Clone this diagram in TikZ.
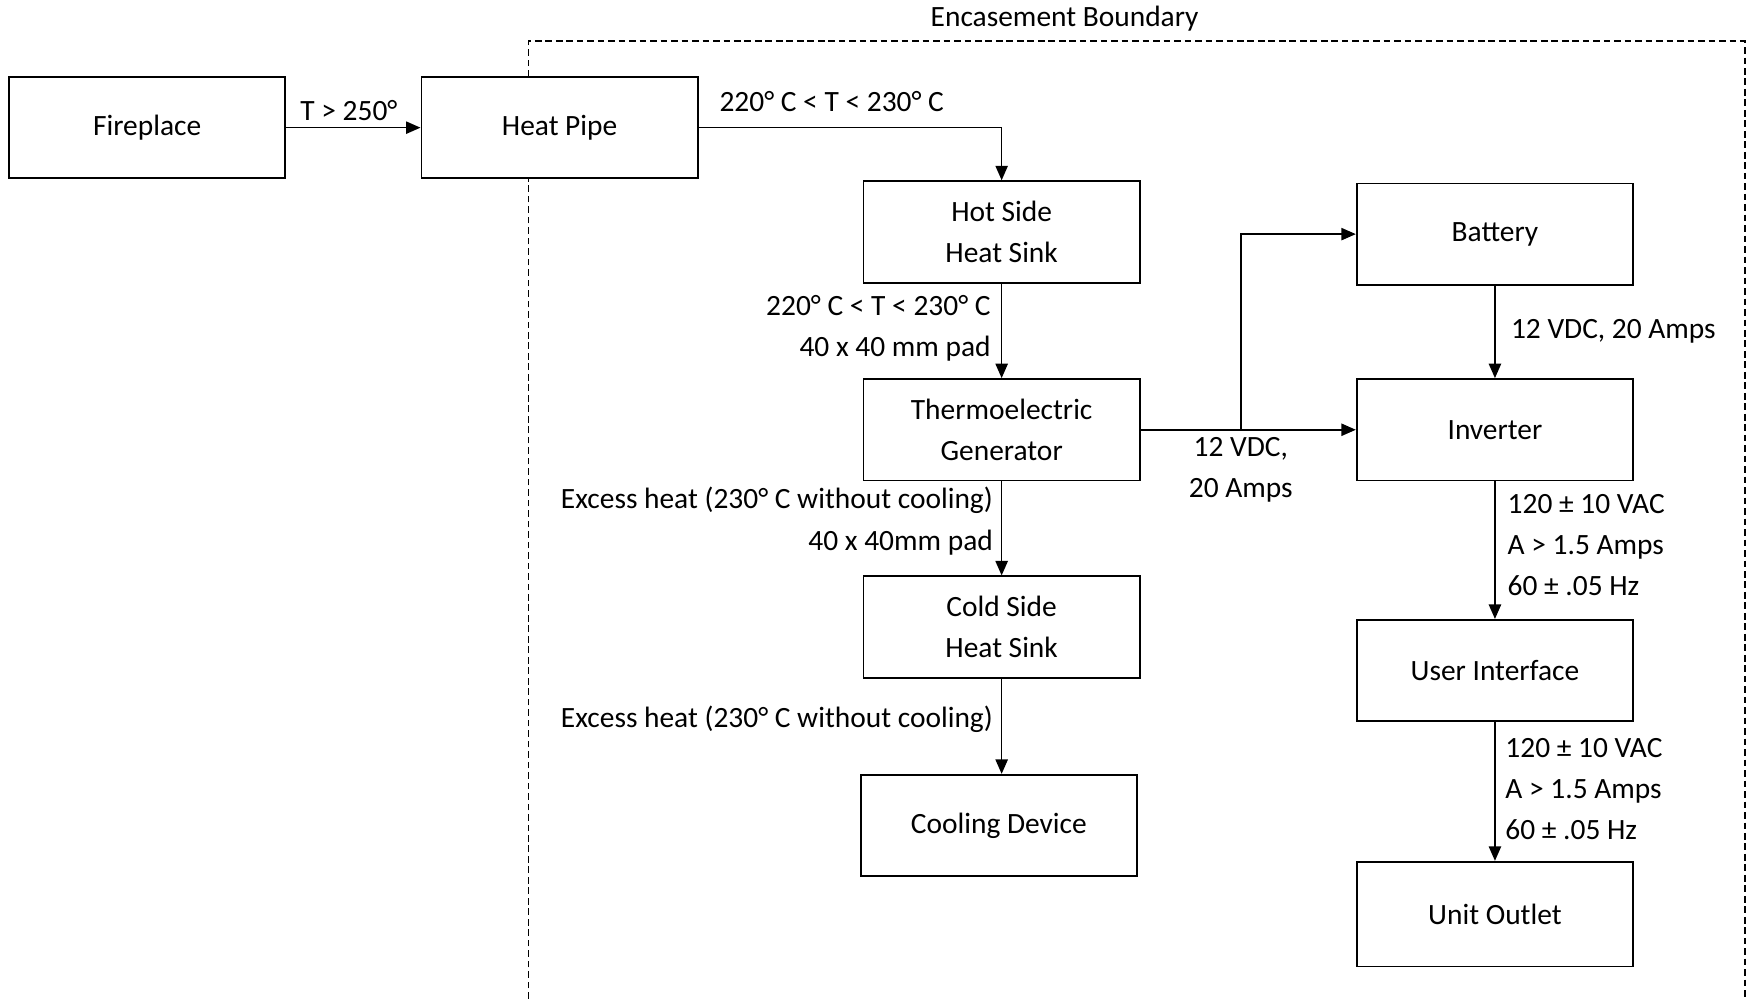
\documentclass[tikz,border=0pt]{standalone}
\usepackage{fontspec}
\setmainfont{Carlito}
\usetikzlibrary{arrows.meta}
\tikzset{
  box/.style={draw, line width=0.8pt, fill=white, minimum width=124pt, minimum height=45.5pt, align=center, inner sep=0pt},
  lbl/.style={inner sep=0pt},
  conn/.style={line width=0.75pt, -{Triangle[length=6.5pt,width=5.5pt]}},
  every node/.style={font=\fontsize{13.2}{18.5}\selectfont}
}
\begin{document}
\begin{tikzpicture}[x=0.5pt,y=-0.5pt]
\useasboundingbox (0,0) rectangle (1568,896);
% boundary
\coordinate (bl) at (474,896);
\coordinate (tl) at (474,37);
\coordinate (tr) at (1565,37);
\coordinate (br0) at (1565,896);
\draw[line width=0.75pt, dash pattern=on 3pt off 1.7pt] (bl) -- (tl) -- (tr) -- (br0);
\node[lbl] (enc) at (955,17) {Encasement Boundary};
% boxes
\node[box] (fire) at (132,114.5) {Fireplace};
\node[box] (pipe) at (502,114.5) {Heat Pipe};
\node[box] (hot) at (898.5,208) {Hot Side\\Heat Sink};
\node[box] (teg) at (898.5,385.5) {Thermoelectric\\Generator};
\node[box] (cold) at (898.5,562.5) {Cold Side\\Heat Sink};
\node[box] (cool) at (896,740.5) {Cooling Device};
\node[box] (batt) at (1341,210) {Battery};
\node[box] (inv) at (1341,385.5) {Inverter};
\node[box] (ui) at (1341,601.5) {User Interface};
\node[box, minimum height=47pt] (out) at (1341,820) {Unit Outlet};
% connectors
\draw[conn] (fire) -- (pipe);
\draw[conn] (pipe.east) -| (hot.north);
\draw[conn] (hot) -- (teg);
\draw[conn] (teg) -- (cold);
\draw[conn] (cold.south) -- (cool.north -| cold.south);
\draw[conn] (teg.east) -- (inv.west);
\coordinate (split) at (1113,385.5);
\draw[conn] (split) |- (batt.west);
\draw[conn] (batt) -- (inv);
\draw[conn] (inv) -- (ui);
\draw[conn] (ui) -- (out);
% labels
\node[lbl] (l1) at (313,99) {T > 250°};
\node[lbl, anchor=west] (l2) at (645,91) {220° C < T < 230° C};
\node[lbl, anchor=east, align=right] (l3) at (889,294.5) {220° C < T < 230° C\\40 x 40 mm pad};
\node[lbl, anchor=east, align=right] (l4) at (891,467.5) {Excess heat (230° C without cooling)\\40 x 40mm pad};
\node[lbl, anchor=east] (l5) at (891,645) {Excess heat (230° C without cooling)};
\node[lbl, align=center] (l6) at (1113,421.5) {12 VDC,\\20 Amps};
\node[lbl, anchor=west] (l7) at (1355,297) {12 VDC, 20 Amps};
\node[lbl, anchor=west, align=left] (l8) at (1352,489) {120 ± 10 VAC\\A > 1.5 Amps\\60 ± .05 Hz};
\node[lbl, anchor=west, align=left] (l9) at (1350,708) {120 ± 10 VAC\\A > 1.5 Amps\\60 ± .05 Hz};
\end{tikzpicture}
\end{document}
